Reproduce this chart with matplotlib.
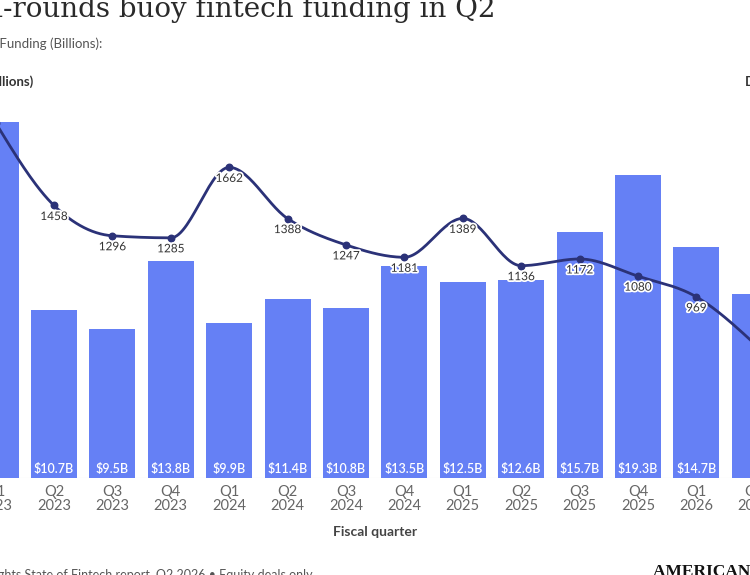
import numpy as np
import matplotlib.pyplot as plt
import matplotlib.patheffects as pe

# data (Q1 2023 .. Q2 2026)
quarters = ["Q1", "Q2", "Q3", "Q4", "Q1", "Q2", "Q3", "Q4", "Q1", "Q2", "Q3", "Q4", "Q1", "Q2"]
years = ["2023", "2023", "2023", "2023", "2024", "2024", "2024", "2024",
         "2025", "2025", "2025", "2025", "2026", "2026"]
funding = [22.7, 10.7, 9.5, 13.8, 9.9, 11.4, 10.8, 13.5, 12.5, 12.6, 15.7, 19.3, 14.7, 11.7]
deals = [1901, 1458, 1296, 1285, 1662, 1388, 1247, 1181, 1389, 1136, 1172, 1080, 969, 717]

plt.rcParams['font.family'] = ['Lato', 'DejaVu Sans']

bar_color = "#6580F5"
line_color = "#2B3278"

W, H = 750, 575
fig = plt.figure(figsize=(7.5, 5.75), dpi=100)

# the reference is a crop: the plot area runs past both figure edges
x_left = 0.0753
x_right = 12.918
ax = fig.add_axes([0, 97 / H, 1, 378 / H])
ax.set_xlim(x_left, x_right)
ax.set_ylim(0, 378 / 15.7)
for s in ax.spines.values():
    s.set_visible(False)
ax.set_xticks([])
ax.set_yticks([])

x = np.arange(len(funding))
ax.bar(x, funding, width=0.79, color=bar_color, zorder=2)
ax.axhline(0, color="#dddddd", lw=0.8, zorder=1)

for xi, v in zip(x, funding):
    ax.annotate(f"${v}B", (xi, 0), xytext=(0, 9), textcoords="offset pixels",
                ha="center", va="center", color="white", fontsize=9,
                fontweight="semibold", zorder=5)

for xi, q, yr in zip(x, quarters, years):
    ax.annotate(f"{q}\n{yr}", (xi, 0), xytext=(0, -21), textcoords="offset pixels",
                ha="center", va="center", color="#666666", fontsize=10.5,
                linespacing=1.05, annotation_clip=False)

# deal count line on its own scale, smooth monotone curve through the points
ax2 = ax.twinx()
ax2.set_ylim(0, 378 / 0.1869)
ax2.set_xlim(x_left, x_right)
for s in ax2.spines.values():
    s.set_visible(False)
ax2.set_yticks([])

yd = np.array(deals, dtype=float)
sl = np.diff(yd)
m = np.zeros_like(yd)
for i in range(1, len(yd) - 1):
    s0, s1 = sl[i - 1], sl[i]
    p = (s0 + s1) / 2
    m[i] = (np.sign(s0) + np.sign(s1)) * min(abs(s0), abs(s1), 0.5 * abs(p))
m[0] = (3 * sl[0] - m[1]) / 2
m[-1] = (3 * sl[-1] - m[-2]) / 2
cx, cy = [], []
t = np.linspace(0, 1, 30)
for i in range(len(yd) - 1):
    h00 = 2 * t**3 - 3 * t**2 + 1
    h10 = t**3 - 2 * t**2 + t
    h01 = -2 * t**3 + 3 * t**2
    h11 = t**3 - t**2
    cx.extend(i + t)
    cy.extend(h00 * yd[i] + h10 * m[i] + h01 * yd[i + 1] + h11 * m[i + 1])
ax2.plot(cx, cy, color=line_color, lw=2, zorder=3, solid_capstyle="round")
ax2.scatter(x, deals, s=22, color=line_color, zorder=4)

halo = [pe.withStroke(linewidth=2.5, foreground="white")]
for xi, v in zip(x, deals):
    ax2.annotate(str(v), (xi, v), xytext=(0, -11), textcoords="offset pixels",
                 ha="center", va="center", color="#333333", fontsize=8.5,
                 path_effects=halo, zorder=6)

# texts around the plot
fig.text(495 / W, 1 - 17 / H, "Mega-rounds buoy fintech funding in Q2",
         ha="right", va="baseline", fontsize=20, color="#2a2a2a",
         family="DejaVu Serif")
fig.text(102 / W, 1 - 44 / H, "Total Funding (Billions):", ha="right", va="center",
         fontsize=9.5, color="#555555")
fig.text(33 / W, 1 - 82 / H, "Funding (Billions)", ha="right", va="center",
         fontsize=9.5, color="#333333", fontweight="bold")
fig.text(745 / W, 1 - 82 / H, "Deals", ha="left", va="center",
         fontsize=9.5, color="#333333", fontweight="bold")
fig.text(375 / W, 1 - 532 / H, "Fiscal quarter", ha="center", va="center",
         fontsize=10, color="#444444", fontweight="bold")
fig.text(313 / W, 1 - 575 / H, "Source: CB Insights State of Fintech report, Q2 2026 \u2022 Equity deals only",
         ha="right", va="center", fontsize=9, color="#555555")
fig.text(653 / W, 1 - 576 / H, "AMERICAN BANKER", ha="left", va="baseline",
         fontsize=12.5, color="#111111", family="Liberation Serif", fontweight="bold")

fig.savefig("out.png", dpi=100)
